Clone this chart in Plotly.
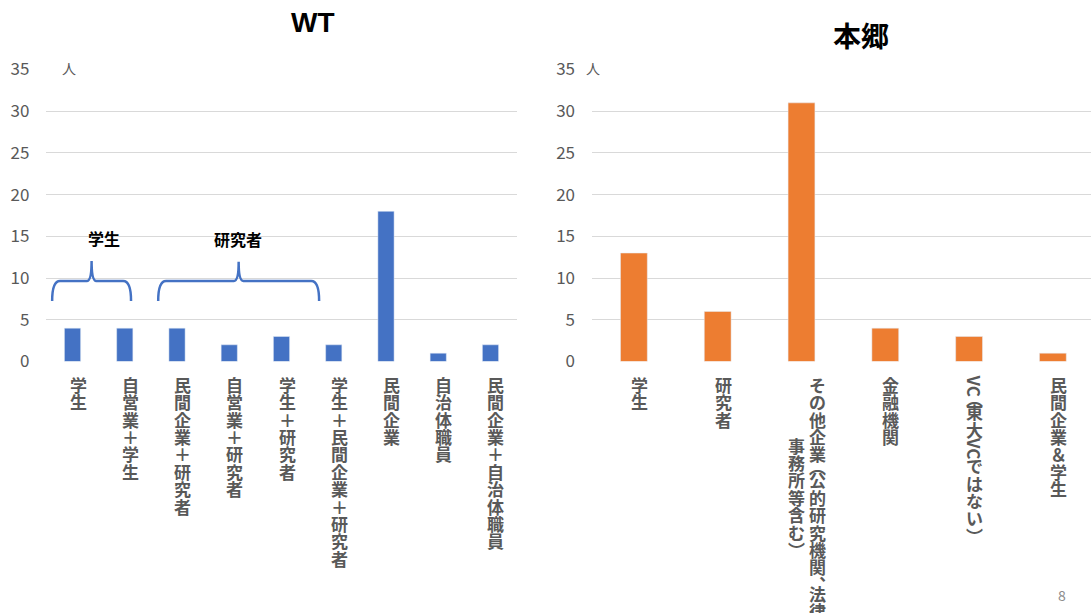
import plotly.graph_objects as go

W, H = 1091, 613

# ---- data -------------------------------------------------------------
wt_categories = [
    "学生", "自営業＋学生", "民間企業＋研究者", "自営業＋研究者", "学生＋研究者",
    "学生＋民間企業＋研究者", "民間企業", "自治体職員", "民間企業＋自治体職員",
]
wt_counts = [4, 4, 4, 2, 3, 2, 18, 1, 2]

hongo_categories = [
    "学生", "研究者", "その他企業（公的研究機関、法律事務所等含む）",
    "金融機関", "VC（東大VCではない）", "民間企業＆学生",
]
hongo_counts = [13, 6, 31, 4, 3, 1]

y_tickvals = [0, 5, 10, 15, 20, 25, 30, 35]
unit_label = "人"
panel_titles = ["WT", "本郷"]

# curly-brace groups over the WT bars:
# (text, x start, x end, y foot, y bar, y tip, text x)
brace_groups = [
    ("学生", -0.39, 1.12, 7.25, 9.65, 12.05, 0.60),
    ("研究者", 1.64, 4.72, 7.25, 9.65, 11.95, 3.17),
]

# ---- styling ----------------------------------------------------------
BLUE = "#4472C4"
ORANGE = "#ED7D31"
GRID = "#d9d9d9"
TEXT_GRAY = "#595959"
JP_FONT = "Noto Sans CJK JP"

Y0_PX, Y35_PX = 361.5, 69.5           # vertical extent of the plot areas
y_domain = [1 - Y0_PX / H, 1 - Y35_PX / H]

fig = go.Figure()
fig.add_trace(go.Bar(x=wt_categories, y=wt_counts, marker_color=BLUE,
                     width=0.31, xaxis="x", yaxis="y", hoverinfo="x+y"))
fig.add_trace(go.Bar(x=hongo_categories, y=hongo_counts, marker_color=ORANGE,
                     width=0.32, xaxis="x2", yaxis="y2", hoverinfo="x+y"))

yaxis_common = dict(
    range=[0, 35], tickvals=y_tickvals, domain=y_domain,
    showgrid=True, gridcolor=GRID, gridwidth=1, zeroline=False, showline=False,
    ticks="", ticklabelstandoff=16, automargin=False,
    tickfont=dict(family=JP_FONT, size=17, color=TEXT_GRAY),
)
xaxis_common = dict(type="category", showticklabels=False, showgrid=False,
                    zeroline=False, showline=False, ticks="", automargin=False)

fig.update_layout(
    width=W, height=H, autosize=False,
    margin=dict(l=0, r=0, t=0, b=0, pad=0, autoexpand=False),
    paper_bgcolor="white", plot_bgcolor="white",
    showlegend=False,
    xaxis=dict(xaxis_common, domain=[46.4 / W, 516.6 / W], range=[-0.5, 8.5], anchor="y"),
    yaxis=dict(yaxis_common, anchor="x"),
    xaxis2=dict(xaxis_common, domain=[592 / W, 1.0], range=[-0.5, 5.455], anchor="y2"),
    yaxis2=dict(yaxis_common, anchor="x2"),
)

annotations = []

# panel titles
annotations.append(dict(text="<b>" + panel_titles[0] + "</b>", x=289 / W, y=1 - 22 / H,
                        xref="paper", yref="paper", showarrow=False, yanchor="middle",
                        font=dict(family="Liberation Sans", size=28, color="black")))
annotations.append(dict(text="<b>" + panel_titles[1] + "</b>", x=891 / W, y=1 - 35 / H,
                        xref="paper", yref="paper", showarrow=False, yanchor="middle",
                        font=dict(family=JP_FONT, size=28, color="black")))

# unit marks next to the top tick
for xr, yr, xd in [("x domain", "y", 0.028), ("x2 domain", "y2", -0.016)]:
    annotations.append(dict(text=unit_label, x=xd, y=35, xref=xr, yref=yr,
                            showarrow=False, yshift=2, yanchor="middle",
                            font=dict(family=JP_FONT, size=14, color=TEXT_GRAY)))

# ---- vertical (tategaki) category labels ------------------------------
PITCH = 17.4
LABEL_TOP = 375.5 - Y0_PX        # offset of first glyph below the zero line
WRAP = 260.0
COL_GAP = 20.5
CENTER_SHIFT = 5.5
VERT_FORMS = {"（": "︵", "）": "︶", "、": "︑"}
HALF_ADVANCE = {"（", "、"}
GLYPH_NUDGE = {"︑": 4}          # extra downward shift for the vertical comma


def tokenize(label):
    out = []
    i = 0
    while i < len(label):
        ch = label[i]
        if ch.isascii() and ch.isalnum():
            j = i
            while j < len(label) and label[j].isascii() and label[j].isalnum():
                j += 1
            out.append((label[i:j], 9.5 * (j - i), True))
            i = j
        else:
            adv = PITCH / 2 if ch in HALF_ADVANCE else PITCH
            out.append((VERT_FORMS.get(ch, ch), adv, False))
            i += 1
    return out


def columns(label):
    cols, cur, used = [], [], 0.0
    for tok in tokenize(label):
        if cur and used + tok[1] > WRAP:
            cols.append((cur, used))
            cur, used = [], 0.0
        cur.append(tok)
        used += tok[1]
    cols.append((cur, used))
    return cols


def vertical_label(cat, xref, yref):
    cols = columns(cat)
    n = len(cols)
    longest = max(c[1] for c in cols)
    for k, (toks, length) in enumerate(cols):
        xoff = CENTER_SHIFT + (n - 1) / 2 * COL_GAP - k * COL_GAP
        pos = LABEL_TOP + (longest - length) / 2
        for text, adv, rotated in toks:
            center = pos + adv / 2 + GLYPH_NUDGE.get(text, 0)
            ann = dict(
                text=text, x=cat, y=0, xref=xref, yref=yref,
                xshift=xoff, yshift=-center, showarrow=False,
                xanchor="center", yanchor="middle",
                textangle=90 if rotated else 0,
                font=dict(family=JP_FONT, size=17,
                          color=TEXT_GRAY, weight=600),
            )
            annotations.append(ann)
            pos += adv


for c in wt_categories:
    vertical_label(c, "x", "y")
for c in hongo_categories:
    vertical_label(c, "x2", "y2")

# ---- braces grouping the WT categories ---------------------------------
shapes = []
for text, x0, x1, yf, yb, yt, tx in brace_groups:
    xm = (x0 + x1) / 2
    r = 0.15
    r2 = 0.09
    path = (f"M {x0},{yf} Q {x0},{yb} {x0 + r},{yb} L {xm - r2},{yb} "
            f"Q {xm},{yb} {xm},{yt} Q {xm},{yb} {xm + r2},{yb} "
            f"L {x1 - r},{yb} Q {x1},{yb} {x1},{yf}")
    shapes.append(dict(type="path", path=path, xref="x", yref="y",
                       line=dict(color=BLUE, width=2.5)))
    annotations.append(dict(text="<b>" + text + "</b>", x=tx, y=yt + 2.75,
                            xref="x", yref="y", showarrow=False, yanchor="middle",
                            font=dict(family=JP_FONT, size=16, color="black")))

# page number
annotations.append(dict(text="8", x=1068 / W, y=1 - 595 / H, xref="paper", yref="paper",
                        showarrow=False, yanchor="middle",
                        font=dict(family=JP_FONT, size=14, color="#8c8c8c")))

fig.update_layout(annotations=annotations, shapes=shapes)
fig.write_html("out.html")
